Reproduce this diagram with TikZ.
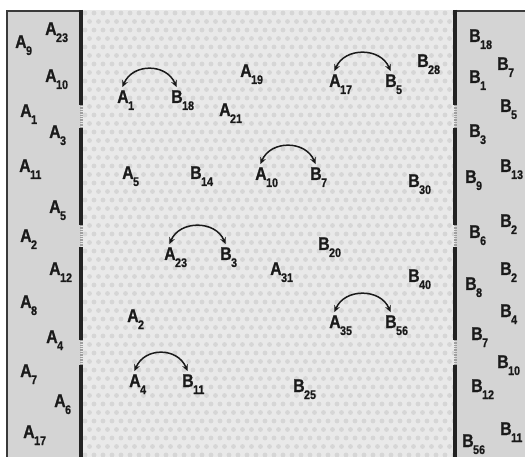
\documentclass[tikz,border=0pt]{standalone}
\usepackage{fontspec}
\newfontfamily\labfont{Liberation Sans Bold}[FakeStretch=0.86, FakeBold=0.6]
\usetikzlibrary{arrows.meta}
\definecolor{panelgray}{HTML}{D4D4D4}
\definecolor{midbg}{HTML}{E9E9E9}
\definecolor{dotc}{HTML}{D6D6D6}
\definecolor{ink}{HTML}{1A1A1A}
\definecolor{wallc}{HTML}{222222}
\definecolor{edgec}{HTML}{3A3A3A}
\newcommand\lbl[2]{{\fontsize{18.5}{18.5}\selectfont #1}\kern-0.6pt\raisebox{-7pt}{\fontsize{12.5}{12.5}\selectfont #2}}
\tikzset{
  lab/.style={anchor=base west, inner sep=0pt, font=\labfont, text=ink},
  swaparc/.style={line width=1.5pt, draw=ink, {Stealth[length=6.5pt,width=6pt]}-{Stealth[length=6.5pt,width=6pt]}},
  wall/.style={line width=3.2pt, draw=wallc},
  pore/.style={line width=3pt, draw=gray!75, dash pattern=on 0.8pt off 0.9pt},
  edge/.style={line width=2pt, draw=edgec}
}
\begin{document}
\begin{tikzpicture}[x=1pt,y=-1pt]
\useasboundingbox (0,0) rectangle (525,457);
% backgrounds
\fill[white] (0,0) rectangle (525,457);
\fill[panelgray] (7,11) rectangle (81,457);
\fill[panelgray] (455,11) rectangle (525,457);
\fill[midbg] (81,10) rectangle (455,457);
\begin{scope}
\clip (82,10) rectangle (454,457);
\foreach \j in {0,...,53}{
  \foreach \i in {0,...,41}{
    \pgfmathsetmacro\xx{85+9*\i+4.5*mod(\j,2)}
    \pgfmathsetmacro\yy{13+8.5*\j}
    \fill[dotc] (\xx,\yy) circle[radius=2.4pt];
  }
}
\end{scope}
% panel edges
\draw[edge] (7,457) -- (7,11) -- (81,11);
\draw[edge] (455,11) -- (525,11);
% walls
\foreach \a/\b in {10/105,128/225,247/340,365/457}{
  \draw[wall] (81,\a) -- (81,\b);
  \draw[wall] (455,\a) -- (455,\b);
}
\foreach \a/\b in {105/128,225/247,340/365}{
  \draw[pore] (81,\a) -- (81,\b);
  \draw[pore] (455,\a) -- (455,\b);
}
% left panel
\node[lab] (la9) at (15,48) {\lbl{A}{9}};
\node[lab] (la23) at (45,35) {\lbl{A}{23}};
\node[lab] (la10) at (45,82) {\lbl{A}{10}};
\node[lab] (la1) at (20,117) {\lbl{A}{1}};
\node[lab] (la3) at (49,138) {\lbl{A}{3}};
\node[lab] (la11) at (19,172) {\lbl{A}{11}};
\node[lab] (la5) at (49,213) {\lbl{A}{5}};
\node[lab] (la2) at (20,242) {\lbl{A}{2}};
\node[lab] (la12) at (49,275) {\lbl{A}{12}};
\node[lab] (la8) at (20,308) {\lbl{A}{8}};
\node[lab] (la4) at (46,343) {\lbl{A}{4}};
\node[lab] (la7) at (20,377) {\lbl{A}{7}};
\node[lab] (la6) at (54,407) {\lbl{A}{6}};
\node[lab] (la17) at (23,438) {\lbl{A}{17}};
% right panel
\node[lab] (rb18) at (469,42) {\lbl{B}{18}};
\node[lab] (rb7) at (497,70) {\lbl{B}{7}};
\node[lab] (rb1) at (469,83) {\lbl{B}{1}};
\node[lab] (rb5) at (500,112) {\lbl{B}{5}};
\node[lab] (rb3) at (469,137) {\lbl{B}{3}};
\node[lab] (rb13) at (500,172) {\lbl{B}{13}};
\node[lab] (rb9) at (465,183) {\lbl{B}{9}};
\node[lab] (rb2a) at (500,227) {\lbl{B}{2}};
\node[lab] (rb6) at (469,238) {\lbl{B}{6}};
\node[lab] (rb2b) at (500,275) {\lbl{B}{2}};
\node[lab] (rb8) at (465,290) {\lbl{B}{8}};
\node[lab] (rb4) at (500,317) {\lbl{B}{4}};
\node[lab] (rb7b) at (471,340) {\lbl{B}{7}};
\node[lab] (rb10) at (497,368) {\lbl{B}{10}};
\node[lab] (rb12) at (471,392) {\lbl{B}{12}};
\node[lab] (rb11) at (500,435) {\lbl{B}{11}};
\node[lab] (rb56) at (462,447) {\lbl{B}{56}};
% middle
\node[lab] (ma1) at (117,103) {\lbl{A}{1}};
\node[lab] (mb18) at (171,103) {\lbl{B}{18}};
\node[lab] (ma19) at (240,77) {\lbl{A}{19}};
\node[lab] (ma21) at (219,116) {\lbl{A}{21}};
\node[lab] (ma17) at (329,87) {\lbl{A}{17}};
\node[lab] (mb5) at (385,87) {\lbl{B}{5}};
\node[lab] (mb28) at (417,67) {\lbl{B}{28}};
\node[lab] (ma5) at (122,179) {\lbl{A}{5}};
\node[lab] (mb14) at (190,179) {\lbl{B}{14}};
\node[lab] (ma10) at (255,180) {\lbl{A}{10}};
\node[lab] (mb7) at (310,180) {\lbl{B}{7}};
\node[lab] (mb30) at (408,187) {\lbl{B}{30}};
\node[lab] (ma23) at (164,260) {\lbl{A}{23}};
\node[lab] (mb3) at (220,260) {\lbl{B}{3}};
\node[lab] (mb20) at (318,250) {\lbl{B}{20}};
\node[lab] (ma31) at (270,275) {\lbl{A}{31}};
\node[lab] (mb40) at (408,282) {\lbl{B}{40}};
\node[lab] (ma2) at (127,322) {\lbl{A}{2}};
\node[lab] (ma35) at (329,328) {\lbl{A}{35}};
\node[lab] (mb56) at (385,328) {\lbl{B}{56}};
\node[lab] (ma4) at (129,387) {\lbl{A}{4}};
\node[lab] (mb11) at (182,387) {\lbl{B}{11}};
\node[lab] (mb25) at (293,392) {\lbl{B}{25}};
% exchange arcs
\foreach \p/\q in {ma1/mb18, ma17/mb5, ma10/mb7, ma23/mb3, ma35/mb56, ma4/mb11}{
  \draw[swaparc] ([xshift=5.5pt,yshift=3pt]\p.north west) .. controls +(10pt,24pt) and +(-10pt,24pt) .. ([xshift=5.5pt,yshift=3pt]\q.north west);
}
\end{tikzpicture}
\end{document}
